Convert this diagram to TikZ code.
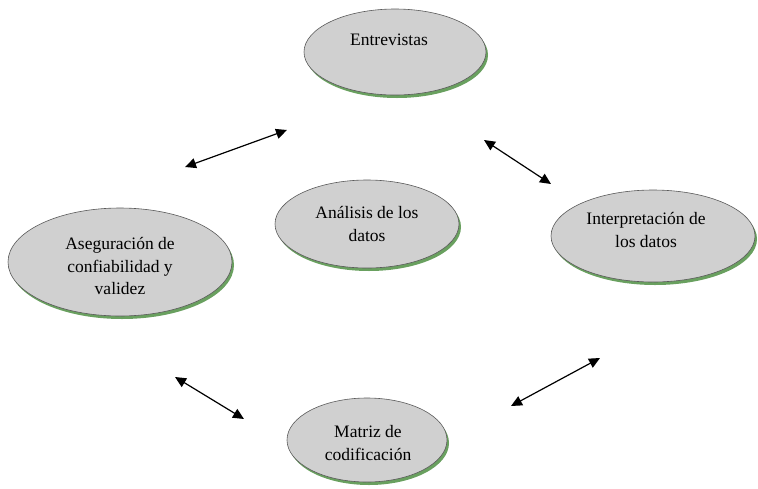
\documentclass[tikz,border=0pt]{standalone}
\usepackage{fontspec}
\setmainfont{Liberation Serif}
\usetikzlibrary{shapes.geometric,arrows.meta,shadows}
\definecolor{ellfill}{RGB}{208,208,208}
\definecolor{ellline}{RGB}{90,90,90}
\definecolor{shgreen}{RGB}{105,160,95}
\begin{document}
\begin{tikzpicture}[x=1pt,y=-1pt,
  oval/.style={ellipse, draw=ellline, line width=0.6pt, fill=ellfill, inner sep=0pt,
    drop shadow={shadow xshift=2pt, shadow yshift=-3pt, fill=shgreen, opacity=1}},
  txt/.style={align=center, inner sep=0pt, font=\fontsize{17.5}{22.5}\selectfont},
  dblarrow/.style={{Triangle[length=11pt,width=10pt]}-{Triangle[length=11pt,width=10pt]}, line width=1.2pt, black}]
\useasboundingbox (0,0) rectangle (758,488);
\node[oval, minimum width=182pt, minimum height=86pt] (ent) at (395,52) {};
\node[txt] (entt) at (389,40) {Entrevistas};
\node[oval, minimum width=184pt, minimum height=88pt] (ana) at (367,224) {};
\node[txt] (anat) at (367,224) {Análisis de los\\datos};
\node[oval, minimum width=204pt, minimum height=92pt] (int) at (653,236) {};
\node[txt] (intt) at (646,230) {Interpretación de\\los datos};
\node[oval, minimum width=224pt, minimum height=108pt] (ase) at (120,262) {};
\node[txt] (aset) at (120,266) {Aseguración de\\confiabilidad y\\validez};
\node[oval, minimum width=160pt, minimum height=84pt] (mat) at (367,440) {};
\node[txt] (matt) at (368,443) {Matriz de\\codificación};
\coordinate (a1) at (185,167); \coordinate (a2) at (287,130);
\coordinate (b1) at (484,140); \coordinate (b2) at (551,184);
\coordinate (c1) at (175,377); \coordinate (c2) at (244,419);
\coordinate (d1) at (511,406); \coordinate (d2) at (600,358);
\draw[dblarrow] (a1) -- (a2);
\draw[dblarrow] (b1) -- (b2);
\draw[dblarrow] (c1) -- (c2);
\draw[dblarrow] (d1) -- (d2);
\end{tikzpicture}
\end{document}
